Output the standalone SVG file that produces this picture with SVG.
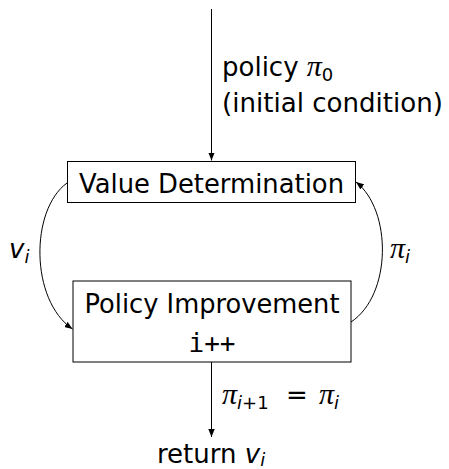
<svg xmlns="http://www.w3.org/2000/svg" width="449" height="469" viewBox="0 0 449 469">
<style>
text{font-family:"DejaVu Sans","Liberation Sans",sans-serif;font-size:26px;fill:#000}
.m{font-family:"Liberation Serif","DejaVu Serif",serif;font-style:italic;font-size:30px}
.it{font-style:italic}
.s{font-size:18px}
.tt{font-family:"DejaVu Sans Mono","Liberation Mono",monospace}
.box{fill:#fff;stroke:#000;stroke-width:1}
.c{fill:none;stroke:#000;stroke-width:1}
</style>
<defs>
<marker id="ah" viewBox="0 0 10 8" refX="10" refY="4" markerWidth="8" markerHeight="6.4" markerUnits="userSpaceOnUse" orient="auto">
<path d="M0,0 L10,4 L0,8 Z" fill="#000"/>
</marker>
</defs>
<g id="connectors">
<path class="c" d="M211.5,9 V160.5" marker-end="url(#ah)"/>
<path class="c" d="M67,183 C30,210 30,300 72.5,329" marker-end="url(#ah)"/>
<path class="c" d="M351,322 C392,295 392,210 356,182" marker-end="url(#ah)"/>
<path class="c" d="M211.5,362 V437" marker-end="url(#ah)"/>
</g>
<g id="label-policy">
<text x="222" y="76">policy <tspan class="m">π</tspan><tspan class="s" dy="5">0</tspan></text>
<text x="222" y="112" textLength="221" lengthAdjust="spacingAndGlyphs">(initial condition)</text>
</g>
<g id="value-determination">
<rect class="box" x="67.5" y="161.5" width="288" height="41"/>
<text x="211.5" y="193" text-anchor="middle" textLength="265" lengthAdjust="spacingAndGlyphs">Value Determination</text>
</g>
<g id="policy-improvement">
<rect class="box" x="73" y="281" width="278" height="81"/>
<text x="212" y="313" text-anchor="middle" textLength="255" lengthAdjust="spacingAndGlyphs">Policy Improvement</text>
<text class="tt" x="212" y="352" text-anchor="middle">i++</text>
</g>
<g id="label-vi">
<text x="9" y="258"><tspan class="it">v</tspan><tspan class="it s" dy="5">i</tspan></text>
</g>
<g id="label-pii">
<text x="390" y="258"><tspan class="m">π</tspan><tspan class="it s" dy="5">i</tspan></text>
</g>
<g id="label-update">
<text x="222" y="404"><tspan class="m">π</tspan><tspan class="it s" dy="5">i</tspan><tspan class="s">+1</tspan><tspan x="286" dy="-5">=</tspan><tspan class="m" x="319">π</tspan><tspan class="it s" dy="5">i</tspan></text>
</g>
<g id="return">
<text x="157" y="463">return <tspan class="it">v</tspan><tspan class="it s" dy="3">i</tspan></text>
</g>
</svg>
